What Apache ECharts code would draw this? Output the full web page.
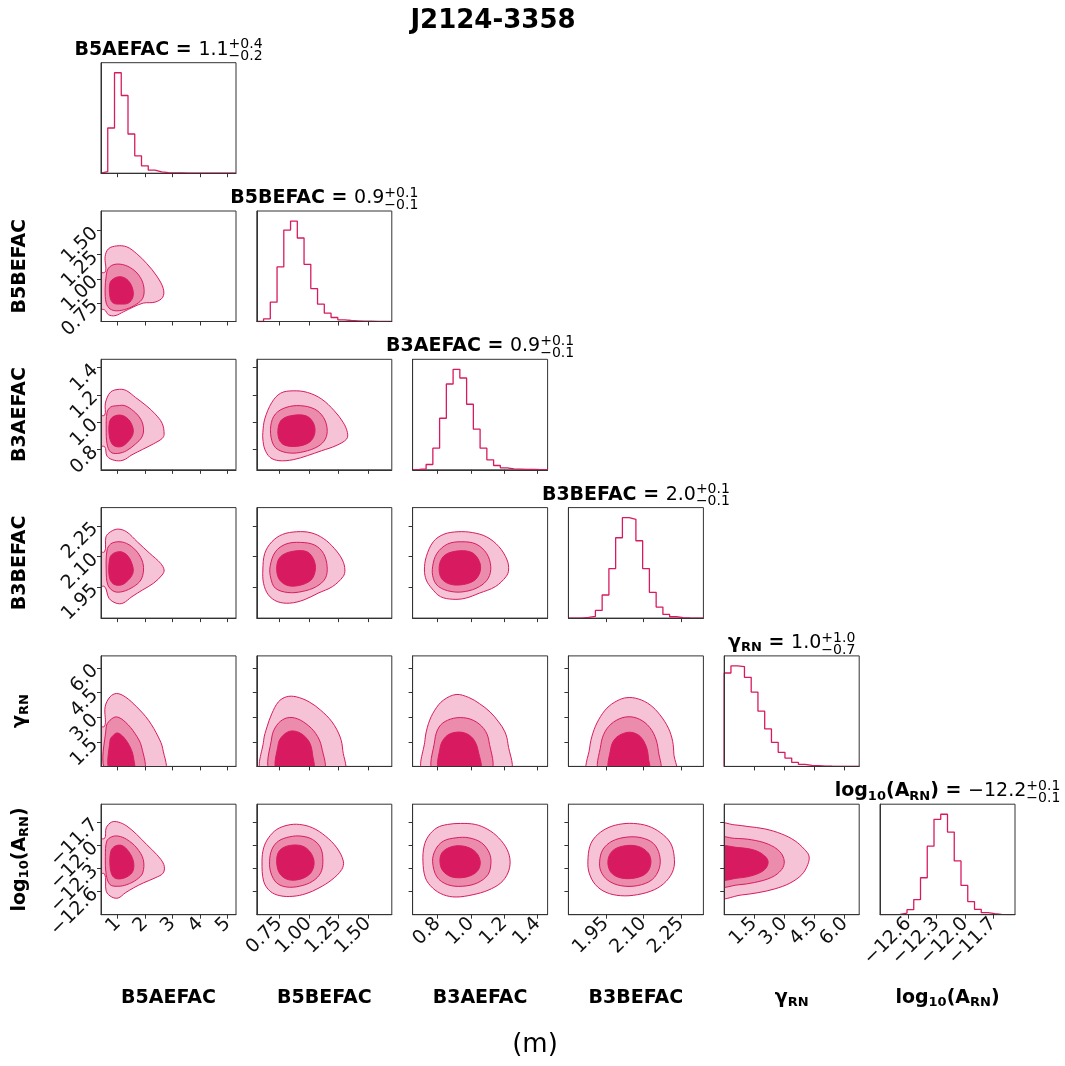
<!DOCTYPE html>
<html><head><meta charset="utf-8">
<script src="https://cdn.jsdelivr.net/npm/echarts@6/dist/echarts.min.js"></script>
<style>html,body{margin:0;padding:0;background:#fff}#c{width:1065px;height:1066px}</style>
</head><body><div id="c"></div>
<script>
// ================= DATA =================
const chartTitle = 'J2124-3358';
const bottomNote = '(m)';
const paramNames = ['B5AEFAC', 'B5BEFAC', 'B3AEFAC', 'B3BEFAC', 'gamma_RN', 'log10_A_RN'];
const axisMin = [0.39, 0.56, 0.65, 1.80, 0.02, -12.90];
const axisMax = [5.31, 1.70, 1.46, 2.34, 6.72, -11.47];
const tickValues = [
  [1, 2, 3, 4, 5],
  [0.75, 1.00, 1.25, 1.50],
  [0.8, 1.0, 1.2, 1.4],
  [1.95, 2.10, 2.25],
  [1.5, 3.0, 4.5, 6.0],
  [-12.6, -12.3, -12.0, -11.7]
];
const tickLabels = [
  ['1', '2', '3', '4', '5'],
  ['0.75', '1.00', '1.25', '1.50'],
  ['0.8', '1.0', '1.2', '1.4'],
  ['1.95', '2.10', '2.25'],
  ['1.5', '3.0', '4.5', '6.0'],
  ['\u221212.6', '\u221212.3', '\u221212.0', '\u221211.7']
];
const medianText = ['1.1', '0.9', '0.9', '2.0', '1.0', '\u221212.2'];
const plusErr = ['+0.4', '+0.1', '+0.1', '+0.1', '+1.0', '+0.1'];
const minusErr = ['\u22120.2', '\u22120.1', '\u22120.1', '\u22120.1', '\u22120.7', '\u22120.1'];

// 20-bin histograms (relative counts)
const histB5AEFAC = [5, 135, 300, 232, 117, 52, 22, 9, 4, 2, 1, 1, 0.5, 0.5, 0.3, 0.3, 0.2, 0.2, 0.1, 0.1];
const histB5BEFAC = [0, 8, 58, 164, 275, 302, 251, 172, 99, 52, 25, 12, 5, 3, 2, 1, 1, 0.5, 0.5, 0.3];
const histB3AEFAC = [1, 3, 16, 65, 155, 258, 302, 276, 197, 122, 65, 30, 13, 6, 3, 2, 1, 1, 0.5, 0.5];
const histB3BEFAC = [0, 0, 2, 5, 23, 69, 148, 240, 300, 295, 231, 148, 77, 33, 11, 4, 1.5, 0.5, 0, 0];
const histGammaRN = [279, 300, 298, 266, 222, 165, 112, 72, 42, 25, 12, 6, 3, 2, 1, 0.5, 0.3, 0.2, 0.1, 0.1];
const histLog10ARN = [0, 0, 1, 5, 15, 45, 110, 204, 284, 299, 246, 160, 87, 39, 16, 6, 3, 1, 0, 0];

// contour outlines [outer, middle, inner] in data units (row param = y, column param = x)
const contour_r1_c0 = [
  [[0.2,1.06],[0.54,1.07],[0.54,1.23],[0.66,1.31],[0.96,1.34],[1.33,1.33],[1.69,1.26],[2.05,1.16],[2.42,1.03],[2.66,0.90],[2.64,0.81],[2.36,0.76],[1.93,0.75],[1.57,0.71],[1.21,0.66],[0.90,0.62],[0.66,0.63],[0.52,0.68],[0.2,0.70]],
  [[0.58,1.03],[0.66,1.11],[0.90,1.15],[1.27,1.14],[1.63,1.08],[1.87,0.99],[1.96,0.89],[1.91,0.80],[1.69,0.74],[1.33,0.69],[0.96,0.67],[0.72,0.69],[0.58,0.75],[0.54,0.89]],
  [[0.72,0.96],[0.90,1.01],[1.15,1.02],[1.39,0.98],[1.55,0.89],[1.55,0.81],[1.39,0.75],[1.08,0.74],[0.84,0.75],[0.72,0.81]]
];
const contour_r2_c0 = [
  [[0.2,1.05],[0.52,1.05],[0.55,1.14],[0.74,1.22],[1.06,1.24],[1.32,1.23],[1.65,1.18],[2.04,1.12],[2.36,1.06],[2.62,0.99],[2.69,0.91],[2.62,0.88],[2.30,0.84],[1.91,0.80],[1.52,0.76],[1.19,0.72],[0.87,0.72],[0.61,0.75],[0.52,0.82],[0.2,0.82]],
  [[0.61,1.07],[0.74,1.11],[1.00,1.12],[1.26,1.12],[1.58,1.08],[1.84,1.02],[1.94,0.95],[1.88,0.89],[1.65,0.84],[1.32,0.79],[1.00,0.77],[0.74,0.78],[0.61,0.84],[0.58,0.95]],
  [[0.70,1.00],[0.84,1.04],[1.13,1.05],[1.39,1.02],[1.55,0.96],[1.55,0.91],[1.39,0.86],[1.13,0.82],[0.84,0.83],[0.70,0.89]]
];
const contour_r2_c1 = [
  [[0.611,0.924],[0.627,1.022],[0.687,1.144],[0.762,1.212],[0.867,1.229],[0.988,1.217],[1.108,1.168],[1.214,1.083],[1.289,0.998],[1.325,0.924],[1.319,0.876],[1.229,0.827],[1.108,0.790],[0.988,0.754],[0.867,0.724],[0.747,0.717],[0.672,0.741],[0.627,0.802],[0.611,0.876]],
  [[0.678,0.973],[0.717,1.059],[0.807,1.107],[0.928,1.120],[1.048,1.095],[1.123,1.034],[1.154,0.949],[1.139,0.876],[1.078,0.822],[0.958,0.783],[0.837,0.773],[0.732,0.802],[0.687,0.863]],
  [[0.741,0.961],[0.777,1.022],[0.883,1.051],[0.988,1.041],[1.042,0.985],[1.048,0.912],[1.003,0.851],[0.898,0.822],[0.792,0.832],[0.747,0.876]]
];
const contour_r3_c0 = [
  [[0.2,2.124],[0.52,2.124],[0.57,2.197],[0.74,2.222],[1.00,2.235],[1.32,2.222],[1.71,2.173],[2.17,2.116],[2.56,2.068],[2.69,2.035],[2.62,2.011],[2.30,1.970],[1.91,1.938],[1.52,1.905],[1.19,1.873],[0.94,1.873],[0.68,1.897],[0.52,1.954],[0.2,1.954]],
  [[0.61,2.132],[0.74,2.162],[1.00,2.173],[1.32,2.165],[1.65,2.132],[1.88,2.084],[1.94,2.035],[1.84,1.986],[1.58,1.954],[1.19,1.930],[0.87,1.930],[0.64,1.962],[0.58,2.035]],
  [[0.71,2.092],[0.84,2.116],[1.13,2.124],[1.39,2.100],[1.55,2.051],[1.55,2.019],[1.39,1.986],[1.13,1.962],[0.84,1.967],[0.69,2.003]]
];
const contour_r3_c1 = [
  [[0.611,2.035],[0.627,2.116],[0.687,2.173],[0.777,2.209],[0.898,2.222],[1.018,2.217],[1.123,2.189],[1.214,2.141],[1.283,2.084],[1.304,2.035],[1.289,2.003],[1.199,1.954],[1.078,1.922],[0.958,1.889],[0.837,1.873],[0.732,1.881],[0.657,1.914],[0.617,1.970]],
  [[0.672,2.051],[0.717,2.124],[0.807,2.162],[0.928,2.170],[1.048,2.157],[1.123,2.116],[1.154,2.051],[1.139,1.995],[1.063,1.954],[0.943,1.930],[0.822,1.925],[0.717,1.946],[0.678,1.995]],
  [[0.732,2.068],[0.777,2.108],[0.883,2.128],[0.988,2.123],[1.042,2.084],[1.054,2.035],[1.018,1.986],[0.913,1.959],[0.807,1.962],[0.741,1.999]]
];
const contour_r3_c2 = [
  [[0.721,2.035],[0.732,2.100],[0.774,2.173],[0.838,2.210],[0.923,2.222],[1.009,2.218],[1.094,2.197],[1.168,2.149],[1.217,2.084],[1.226,2.035],[1.211,2.003],[1.147,1.954],[1.051,1.922],[0.966,1.897],[0.891,1.892],[0.817,1.905],[0.764,1.946],[0.732,1.986]],
  [[0.770,2.051],[0.796,2.116],[0.860,2.162],[0.945,2.173],[1.030,2.162],[1.094,2.116],[1.119,2.051],[1.104,1.995],[1.051,1.954],[0.966,1.930],[0.881,1.930],[0.806,1.954],[0.774,1.995]],
  [[0.813,2.068],[0.849,2.111],[0.934,2.129],[1.009,2.119],[1.051,2.076],[1.055,2.027],[1.019,1.983],[0.934,1.962],[0.860,1.970],[0.817,2.003]]
];
const contour_r4_c0 = [
  [[0.2,2.45],[0.52,2.45],[0.54,3.63],[0.72,4.24],[0.96,4.44],[1.27,4.24],[1.69,3.63],[2.12,2.82],[2.48,1.80],[2.64,1.09],[2.68,-0.3],[0.2,-0.3]],
  [[0.58,-0.3],[0.58,2.41],[0.72,2.82],[0.96,3.02],[1.27,2.72],[1.63,2.01],[1.87,1.20],[1.93,-0.3]],
  [[0.72,-0.3],[0.72,1.60],[0.84,1.91],[0.99,2.05],[1.21,1.80],[1.45,1.20],[1.57,0.59],[1.57,-0.3]]
];
const contour_r4_c1 = [
  [[0.61,-0.3],[0.618,1.60],[0.646,2.41],[0.687,3.22],[0.742,3.93],[0.810,4.24],[0.893,4.24],[1.003,3.93],[1.099,3.43],[1.195,2.72],[1.264,1.80],[1.286,0.99],[1.291,-0.3]],
  [[0.679,-0.3],[0.687,1.80],[0.728,2.51],[0.797,2.92],[0.879,2.96],[0.975,2.61],[1.058,2.01],[1.107,1.20],[1.118,-0.3]],
  [[0.734,-0.3],[0.742,1.40],[0.783,1.91],[0.852,2.17],[0.934,2.01],[1.003,1.50],[1.030,0.79],[1.030,-0.3]]
];
const contour_r4_c2 = [
  [[0.719,-0.3],[0.724,1.60],[0.745,2.61],[0.783,3.43],[0.834,4.03],[0.911,4.38],[0.987,4.20],[1.051,3.83],[1.115,3.32],[1.166,2.72],[1.204,2.11],[1.222,1.40],[1.230,-0.3]],
  [[0.778,-0.3],[0.783,1.60],[0.809,2.41],[0.860,2.82],[0.936,2.98],[1.013,2.82],[1.077,2.31],[1.107,1.60],[1.115,-0.3]],
  [[0.814,-0.3],[0.816,1.20],[0.847,1.80],[0.898,2.07],[0.962,2.05],[1.013,1.70],[1.043,0.99],[1.051,-0.3]]
];
const contour_r4_c3 = [
  [[1.881,-0.3],[1.885,1.14],[1.898,2.04],[1.921,2.85],[1.954,3.55],[1.994,3.99],[2.034,4.19],[2.080,4.11],[2.127,3.75],[2.166,3.15],[2.200,2.34],[2.217,1.54],[2.222,0.74],[2.226,-0.3]],
  [[1.927,-0.3],[1.930,1.34],[1.947,2.14],[1.980,2.70],[2.027,3.01],[2.073,2.95],[2.116,2.54],[2.146,1.84],[2.160,0.94],[2.162,-0.3]],
  [[1.967,-0.3],[1.970,1.14],[1.987,1.70],[2.020,2.02],[2.054,2.08],[2.087,1.84],[2.111,1.24],[2.120,0.54],[2.120,-0.3]]
];
const contour_r5_c0 = [
  [[0.2,-11.913],[0.52,-11.913],[0.58,-11.775],[0.78,-11.701],[1.02,-11.701],[1.33,-11.753],[1.69,-11.861],[2.05,-11.991],[2.42,-12.121],[2.68,-12.251],[2.66,-12.359],[2.36,-12.424],[1.93,-12.489],[1.57,-12.554],[1.27,-12.619],[1.02,-12.684],[0.78,-12.671],[0.58,-12.597],[0.52,-12.372],[0.2,-12.372]],
  [[0.60,-11.948],[0.78,-11.892],[1.02,-11.883],[1.33,-11.926],[1.69,-12.035],[1.93,-12.186],[1.91,-12.359],[1.69,-12.446],[1.33,-12.511],[1.02,-12.532],[0.72,-12.511],[0.58,-12.381],[0.55,-12.143]],
  [[0.75,-12.078],[0.90,-12.013],[1.15,-12.004],[1.39,-12.078],[1.57,-12.208],[1.55,-12.338],[1.33,-12.411],[1.02,-12.437],[0.82,-12.403],[0.72,-12.273]]
];
const contour_r5_c1 = [
  [[0.604,-12.208],[0.618,-12.035],[0.659,-11.905],[0.728,-11.797],[0.824,-11.740],[0.920,-11.732],[1.030,-11.775],[1.140,-11.883],[1.236,-12.035],[1.291,-12.208],[1.277,-12.316],[1.195,-12.446],[1.085,-12.554],[0.975,-12.628],[0.865,-12.662],[0.755,-12.654],[0.673,-12.597],[0.618,-12.468]],
  [[0.668,-12.208],[0.687,-12.056],[0.742,-11.948],[0.838,-11.892],[0.934,-11.883],[1.030,-11.926],[1.099,-12.035],[1.118,-12.208],[1.099,-12.359],[1.030,-12.468],[0.920,-12.532],[0.810,-12.541],[0.728,-12.489],[0.679,-12.359]],
  [[0.728,-12.186],[0.755,-12.065],[0.838,-12.004],[0.948,-12.013],[1.016,-12.100],[1.044,-12.229],[1.016,-12.359],[0.934,-12.437],[0.824,-12.446],[0.750,-12.359]]
];
const contour_r5_c2 = [
  [[0.712,-12.208],[0.719,-12.013],[0.745,-11.883],[0.796,-11.775],[0.860,-11.732],[0.936,-11.719],[1.026,-11.732],[1.102,-11.797],[1.166,-11.905],[1.217,-12.056],[1.235,-12.208],[1.222,-12.359],[1.179,-12.489],[1.102,-12.584],[1.013,-12.641],[0.911,-12.671],[0.834,-12.641],[0.770,-12.554],[0.727,-12.424]],
  [[0.770,-12.208],[0.788,-12.056],[0.834,-11.948],[0.911,-11.905],[0.987,-11.905],[1.064,-11.970],[1.110,-12.100],[1.120,-12.229],[1.102,-12.381],[1.038,-12.489],[0.949,-12.532],[0.860,-12.511],[0.796,-12.411]],
  [[0.814,-12.186],[0.834,-12.078],[0.898,-12.013],[0.974,-12.022],[1.033,-12.100],[1.056,-12.221],[1.038,-12.338],[0.974,-12.411],[0.885,-12.411],[0.829,-12.325]]
];
const contour_r5_c3 = [
  [[1.878,-12.208],[1.886,-12.013],[1.908,-11.892],[1.950,-11.788],[2.001,-11.732],[2.060,-11.719],[2.119,-11.753],[2.169,-11.840],[2.208,-11.970],[2.223,-12.143],[2.220,-12.316],[2.191,-12.468],[2.144,-12.576],[2.076,-12.641],[2.009,-12.654],[1.950,-12.610],[1.908,-12.511],[1.883,-12.359]],
  [[1.925,-12.208],[1.938,-12.056],[1.975,-11.948],[2.034,-11.896],[2.093,-11.905],[2.140,-11.978],[2.164,-12.121],[2.164,-12.294],[2.135,-12.446],[2.076,-12.524],[2.009,-12.524],[1.958,-12.455],[1.930,-12.338]],
  [[1.958,-12.208],[1.975,-12.078],[2.017,-12.013],[2.076,-12.013],[2.119,-12.100],[2.130,-12.229],[2.113,-12.359],[2.068,-12.424],[2.009,-12.424],[1.970,-12.351]]
];
const contour_r5_c4 = [
  [[-0.3,-11.732],[0.53,-11.737],[1.20,-11.759],[2.03,-11.789],[2.87,-11.855],[3.53,-11.943],[4.00,-12.053],[4.23,-12.140],[4.17,-12.250],[3.87,-12.382],[3.28,-12.492],[2.53,-12.566],[1.70,-12.615],[0.87,-12.645],[-0.3,-12.667]],
  [[-0.3,-11.912],[0.53,-11.912],[1.37,-11.930],[2.20,-11.987],[2.78,-12.083],[3.00,-12.206],[2.87,-12.316],[2.37,-12.417],[1.53,-12.483],[0.70,-12.514],[-0.3,-12.522]],
  [[-0.3,-12.031],[0.70,-12.031],[1.53,-12.066],[2.03,-12.140],[2.20,-12.219],[2.03,-12.316],[1.45,-12.391],[0.70,-12.426],[-0.3,-12.435]]
];

// ================= BUILD =================
const hists = [histB5AEFAC, histB5BEFAC, histB3AEFAC, histB3BEFAC, histGammaRN, histLog10ARN];
const contours = {
  '1_0': contour_r1_c0, '2_0': contour_r2_c0, '2_1': contour_r2_c1,
  '3_0': contour_r3_c0, '3_1': contour_r3_c1, '3_2': contour_r3_c2,
  '4_0': contour_r4_c0, '4_1': contour_r4_c1, '4_2': contour_r4_c2, '4_3': contour_r4_c3,
  '5_0': contour_r5_c0, '5_1': contour_r5_c1, '5_2': contour_r5_c2, '5_3': contour_r5_c3, '5_4': contour_r5_c4
};
const FONT = 'DejaVu Sans';
const MAIN = '#d81b60';
const FILLS = ['#f5c3d5', '#eb8cad', '#d81b60'];
const L0 = 101, DXP = 155.8, T0 = 62.7, DYP = 148.3, W = 135, H = 110.5;
const FRAME = '#333';
const TICK_FS = 19, TICK_MARGIN = 6;

function axisCfg(p, g, showLabels) {
  return {
    type: 'value', gridIndex: g, min: axisMin[p], max: axisMax[p], z: 5,
    axisLine: { show: true, onZero: false, lineStyle: { color: FRAME, width: 1 } },
    axisTick: { show: true, inside: false, length: 4, customValues: tickValues[p], lineStyle: { color: FRAME, width: 1 } },
    axisLabel: {
      show: showLabels, rotate: 45, margin: TICK_MARGIN, fontSize: TICK_FS, fontFamily: FONT, color: '#111',
      interval: 0, hideOverlap: false,
      customValues: tickValues[p],
      formatter: function (v) {
        const k = tickValues[p].findIndex(t => Math.abs(t - v) < 1e-9);
        return k >= 0 ? tickLabels[p][k] : '';
      }
    },
    splitLine: { show: false }
  };
}

// y tick labels of the first column, placed through the grid's own scales
function yTickLabelSeries(g, p) {
  const data = tickValues[p].map(v => [axisMin[0], v]);
  return {
    type: 'custom', xAxisIndex: g, yAxisIndex: g, silent: true, clip: false, z: 6, data: data,
    renderItem: function (params, api) {
      const idx = params.dataIndex;
      const pt = api.coord([api.value(0), api.value(1)]);
      return {
        type: 'text', x: pt[0] - TICK_MARGIN, y: pt[1], rotation: Math.PI / 4,
        style: { text: tickLabels[p][idx], fontSize: TICK_FS, fontFamily: FONT, fill: '#111', align: 'right', verticalAlign: 'middle' }
      };
    }
  };
}

const grids = [], xAxes = [], yAxes = [], series = [];
let g = 0;
for (let i = 0; i < 6; i++) {
  for (let j = 0; j <= i; j++) {
    grids.push({ left: L0 + DXP * j, top: T0 + DYP * i, width: W, height: H, show: true,
      borderColor: FRAME, borderWidth: 1, backgroundColor: 'transparent' });
    xAxes.push(axisCfg(j, g, i === 5));
    if (i === j) {
      const counts = hists[i];
      yAxes.push({ type: 'value', gridIndex: g, min: 0, max: 1.1 * Math.max.apply(null, counts), z: 5,
        axisLine: { show: true, onZero: false, lineStyle: { color: FRAME, width: 1 } },
        axisTick: { show: false }, axisLabel: { show: false }, splitLine: { show: false } });
      const n = counts.length, lo = axisMin[i], step = (axisMax[i] - axisMin[i]) / n;
      const pts = [[lo, 0]];
      counts.forEach((c, k) => { pts.push([lo + k * step, c]); pts.push([lo + (k + 1) * step, c]); });
      pts.push([lo + n * step, 0]);
      series.push({ type: 'line', xAxisIndex: g, yAxisIndex: g, data: pts, showSymbol: false, silent: true,
        lineStyle: { color: MAIN, width: 1.3 }, z: 3, animation: false });
    } else {
      yAxes.push(axisCfg(i, g, false));
      if (j === 0) series.push(yTickLabelSeries(g, i));
      const polys = contours[i + '_' + j];
      polys.forEach((poly, lev) => {
        series.push({
          type: 'custom', xAxisIndex: g, yAxisIndex: g, silent: true, data: poly, z: 2 + lev * 0.01,
          renderItem: function (params, api) {
            if (params.dataIndex !== 0) return null;
            const cs = params.coordSys;
            return {
              type: 'polygon',
              shape: { points: poly.map(pt => api.coord(pt)), smooth: 0.35 },
              style: { fill: FILLS[lev], stroke: MAIN, lineWidth: 1 },
              clipPath: { type: 'rect', shape: { x: cs.x, y: cs.y, width: cs.width, height: cs.height } }
            };
          }
        });
      });
    }
    g++;
  }
}

// ---------- text labels (fragments with sub/superscripts) ----------
const mctx = document.createElement('canvas').getContext('2d');
function tw(text, size, bold) { mctx.font = (bold ? 'bold ' : '') + size + 'px "' + FONT + '"'; return mctx.measureText(text).width; }
function makeLabel(frags, cx, cy, rot) {
  let widths = frags.map(f => f.stack ? Math.max(tw(f.sup, f.s, false), tw(f.sub, f.s, false)) : tw(f.t, f.s, f.b));
  const total = widths.reduce((a, b) => a + b, 0);
  let x = -total / 2;
  const children = [];
  frags.forEach((f, k) => {
    if (f.stack) {
      children.push({ type: 'text', x: x, y: f.dsup, style: { text: f.sup, fontSize: f.s, fontFamily: FONT, fill: '#000', align: 'left', verticalAlign: 'middle' } });
      children.push({ type: 'text', x: x, y: f.dsub, style: { text: f.sub, fontSize: f.s, fontFamily: FONT, fill: '#000', align: 'left', verticalAlign: 'middle' } });
    } else {
      children.push({ type: 'text', x: x, y: f.dy || 0, style: { text: f.t, fontSize: f.s, fontWeight: f.b ? 'bold' : 'normal', fontFamily: FONT, fill: '#000', align: 'left', verticalAlign: 'middle' } });
    }
    x += widths[k];
  });
  return { type: 'group', x: cx, y: cy, rotation: rot || 0, children: children, silent: true };
}
const LS = 19, SS = 13;
function nameFrags(p) {
  if (p === 4) return [{ t: '\u03b3', s: LS, b: 1 }, { t: 'RN', s: SS, b: 1, dy: 5 }];
  if (p === 5) return [{ t: 'log', s: LS, b: 1 }, { t: '10', s: SS, b: 1, dy: 5 }, { t: '(A', s: LS, b: 1 }, { t: 'RN', s: SS, b: 1, dy: 5 }, { t: ')', s: LS, b: 1 }];
  return [{ t: paramNames[p], s: LS, b: 1 }];
}
const graphics = [];
graphics.push({ type: 'text', x: 493, y: 21, style: { text: chartTitle, fontSize: 26, fontWeight: 'bold', fontFamily: FONT, fill: '#000', align: 'center', verticalAlign: 'middle' } });
graphics.push({ type: 'text', x: 535, y: 1045, style: { text: bottomNote, fontSize: 26, fontFamily: FONT, fill: '#000', align: 'center', verticalAlign: 'middle' } });
for (let p = 0; p < 6; p++) {
  const cx = L0 + DXP * p + W / 2;
  const top = T0 + DYP * p;
  const frags = nameFrags(p).concat([{ t: ' = ', s: LS, b: 1 }, { t: medianText[p], s: LS, b: 0 },
    { stack: true, sup: plusErr[p], sub: minusErr[p], s: 14, dsup: -5, dsub: 7 }]);
  graphics.push(makeLabel(frags, cx, top - 13, 0));
  graphics.push(makeLabel(nameFrags(p), cx, 998, 0));
  if (p > 0) graphics.push(makeLabel(nameFrags(p), 20, top + H / 2, Math.PI / 2));
}

const chart = echarts.init(document.getElementById('c'), null, { renderer: 'canvas' });
chart.setOption({
  animation: false,
  backgroundColor: '#fff',
  grid: grids, xAxis: xAxes, yAxis: yAxes, series: series,
  graphic: graphics
});
</script></body></html>
